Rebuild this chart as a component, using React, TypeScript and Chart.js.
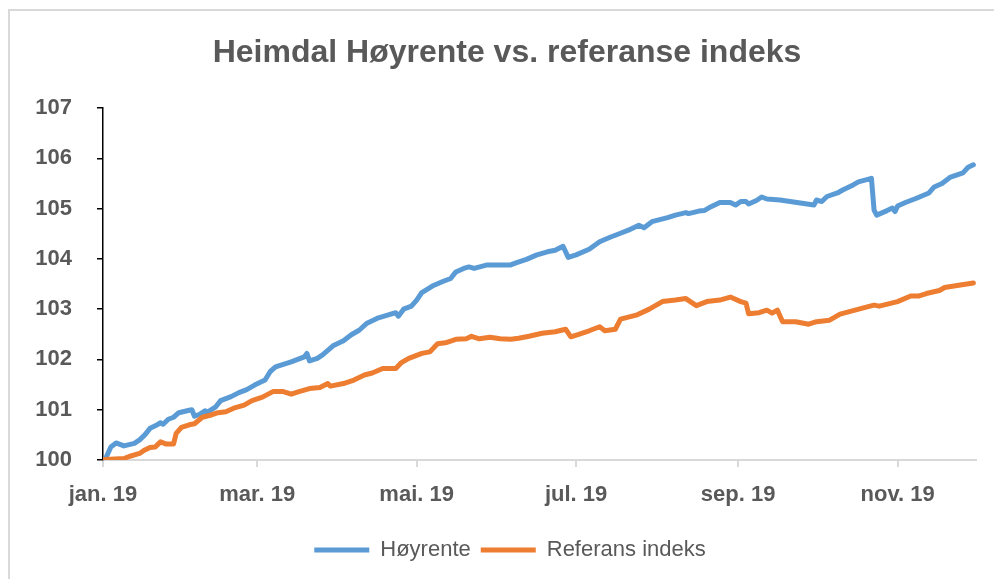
import React, { useEffect, useRef } from "react";
import { Chart, registerables } from "chart.js";

Chart.register(...registerables);

const titleText = "Heimdal Høyrente vs. referanse indeks";
const seriesNames = ["Høyrente", "Referans indeks"];

// x = days since 1 Jan 2019
const tickDays = [0, 59, 120, 181, 243, 304];
const tickLabels = ["jan. 19", "mar. 19", "mai. 19", "jul. 19", "sep. 19", "nov. 19"];
const yTicks = [100, 101, 102, 103, 104, 105, 106, 107];

const hoyDays = [0, 1, 3, 5, 8, 12, 14, 16, 18, 20, 22, 23, 25, 27, 29, 33, 34, 35, 37, 39, 40, 43, 45, 49, 52, 55, 58, 62, 64, 66, 72, 77, 78, 79, 82, 84, 88, 92, 95, 98, 101, 105, 107, 112, 113, 115, 118, 120, 122, 126, 130, 133, 135, 138, 140, 142, 147, 151, 156, 158, 162, 166, 170, 173, 176, 178, 181, 186, 190, 194, 198, 201, 205, 207, 210, 216, 219, 223, 224, 228, 230, 232, 236, 240, 242, 244, 246, 247, 250, 252, 254, 259, 272, 273, 275, 277, 281, 283, 287, 289, 294, 295, 296, 300, 302, 303, 304, 307, 311, 316, 318, 321, 324, 329, 331, 333];
const hoyValues = [100.0, 100.03, 100.26, 100.34, 100.28, 100.33, 100.4, 100.5, 100.63, 100.68, 100.74, 100.71, 100.81, 100.85, 100.94, 100.99, 101.0, 100.87, 100.91, 100.98, 100.95, 101.05, 101.18, 101.26, 101.34, 101.4, 101.49, 101.59, 101.76, 101.85, 101.95, 102.05, 102.12, 101.97, 102.02, 102.09, 102.27, 102.37, 102.49, 102.58, 102.72, 102.82, 102.85, 102.93, 102.86, 103.0, 103.06, 103.18, 103.33, 103.46, 103.55, 103.61, 103.74, 103.81, 103.84, 103.81, 103.88, 103.88, 103.88, 103.92, 103.99, 104.08, 104.14, 104.17, 104.25, 104.03, 104.08, 104.19, 104.34, 104.43, 104.51, 104.57, 104.67, 104.62, 104.74, 104.82, 104.87, 104.92, 104.9, 104.95, 104.96, 105.02, 105.12, 105.12, 105.07, 105.14, 105.14, 105.09, 105.16, 105.23, 105.19, 105.17, 105.07, 105.17, 105.14, 105.24, 105.31, 105.37, 105.47, 105.53, 105.6, 104.97, 104.87, 104.96, 105.01, 104.94, 105.05, 105.12, 105.2, 105.31, 105.43, 105.5, 105.62, 105.71, 105.82, 105.87];

const refDays = [0, 1, 8, 10, 14, 16, 18, 20, 22, 24, 27, 28, 30, 33, 35, 38, 41, 44, 47, 50, 54, 57, 61, 65, 69, 72, 75, 79, 83, 86, 87, 92, 96, 100, 103, 107, 112, 114, 117, 122, 125, 128, 131, 135, 139, 141, 144, 148, 152, 156, 159, 163, 168, 173, 177, 179, 182, 186, 190, 192, 196, 198, 204, 209, 214, 219, 223, 227, 231, 236, 240, 244, 246, 247, 251, 254, 256, 258, 260, 263, 265, 270, 273, 278, 282, 287, 292, 295, 297, 304, 309, 312, 315, 320, 322, 328, 333];
const refValues = [100.0, 100.01, 100.03, 100.07, 100.13, 100.2, 100.25, 100.26, 100.36, 100.32, 100.32, 100.53, 100.65, 100.7, 100.72, 100.85, 100.89, 100.94, 100.96, 101.03, 101.09, 101.18, 101.25, 101.36, 101.36, 101.31, 101.36, 101.42, 101.44, 101.52, 101.47, 101.52, 101.59, 101.69, 101.73, 101.82, 101.82, 101.93, 102.02, 102.12, 102.15, 102.31, 102.33, 102.4, 102.41, 102.46, 102.41, 102.44, 102.41, 102.4, 102.42, 102.46, 102.52, 102.55, 102.6, 102.45, 102.5, 102.57, 102.65, 102.57, 102.6, 102.8, 102.88, 103.0, 103.15, 103.18, 103.21, 103.07, 103.15, 103.18, 103.24, 103.15, 103.12, 102.91, 102.93, 102.98, 102.92, 102.98, 102.75, 102.75, 102.75, 102.7, 102.75, 102.78, 102.9, 102.97, 103.04, 103.08, 103.06, 103.15, 103.26, 103.26, 103.31, 103.37, 103.43, 103.48, 103.52];

const FONT = "'Liberation Sans', Arial, sans-serif";
const GRAY = "#595959";

const frame = {
  id: "frame",
  beforeDraw(chart: any) {
    const ctx = chart.ctx;
    ctx.save();
    ctx.fillStyle = "#ffffff";
    ctx.fillRect(0, 0, chart.width, chart.height);
    ctx.strokeStyle = "#d9d9d9";
    ctx.lineWidth = 2;
    ctx.strokeRect(9, 10, chart.width + 20, chart.height + 20);
    ctx.restore();
  },
  afterLayout(chart: any) {
    // centre title and legend like the original
    if (chart.titleBlock) {
      chart.titleBlock.left += 19;
      chart.titleBlock.right += 19;
    }
    if (chart.legend) {
      chart.legend.left += 22;
      chart.legend.right += 22;
    }
  },
};

export default function App() {
  const ref = useRef<HTMLCanvasElement>(null);
  useEffect(() => {
    const canvas = ref.current!;
    const chart = new Chart(canvas, {
      type: "line",
      data: {
        datasets: [
          {
            label: seriesNames[0],
            data: hoyDays.map((d, i) => ({ x: d, y: hoyValues[i] })),
            borderColor: "#5B9BD5",
            backgroundColor: "#5B9BD5",
            borderWidth: 5,
            pointRadius: 0,
            borderJoinStyle: "round",
            borderCapStyle: "round",
            order: 1,
          },
          {
            label: seriesNames[1],
            data: refDays.map((d, i) => ({ x: d, y: refValues[i] })),
            borderColor: "#ED7D31",
            backgroundColor: "#ED7D31",
            borderWidth: 5,
            pointRadius: 0,
            borderJoinStyle: "round",
            borderCapStyle: "round",
            order: 0,
          },
        ],
      },
      options: {
        animation: false,
        responsive: false,
        devicePixelRatio: 1,
        layout: { padding: { left: 0, right: 18, top: 0, bottom: 8 } },
        plugins: {
          tooltip: { enabled: false },
          title: {
            display: true,
            text: titleText,
            color: GRAY,
            font: { family: FONT, size: 32, weight: "bold" },
            padding: { top: 34, bottom: 35.6 },
          },
          legend: {
            position: "bottom",
            labels: {
              boxWidth: 55,
              boxHeight: 5,
              color: GRAY,
              font: { family: FONT, size: 22 },
              padding: 10,
              generateLabels: (c: any) =>
                c.data.datasets.map((ds: any, i: number) => ({
                  text: ds.label,
                  fillStyle: ds.borderColor,
                  strokeStyle: ds.borderColor,
                  lineWidth: 0,
                  hidden: false,
                  datasetIndex: i,
                  fontColor: GRAY,
                })),
            },
          },
        },
        scales: {
          x: {
            type: "linear",
            min: 0,
            max: 334,
            afterBuildTicks: (s: any) => {
              s.ticks = tickDays.map((v) => ({ value: v }));
            },
            afterFit: (s: any) => {
              s.height = 69;
            },
            ticks: {
              autoSkip: false,
              maxRotation: 0,
              padding: 15,
              color: GRAY,
              font: { family: FONT, size: 22, weight: "bold" },
              callback: (v: any) => {
                const i = tickDays.indexOf(Number(v));
                return i >= 0 ? tickLabels[i] : "";
              },
            },
            grid: { drawOnChartArea: false, drawTicks: true, tickLength: 7, color: "#d9d9d9", lineWidth: 2 },
            border: { color: "#d9d9d9", width: 2 },
          },
          y: {
            min: 100,
            max: 107,
            afterBuildTicks: (s: any) => {
              s.ticks = yTicks.map((v) => ({ value: v }));
            },
            afterFit: (s: any) => {
              s.width = 103;
            },
            ticks: {
              padding: 25,
              color: GRAY,
              font: { family: FONT, size: 22, weight: "bold" },
            },
            grid: { drawOnChartArea: false, drawTicks: true, tickLength: 6, color: "#000000", lineWidth: 1.5 },
            border: { color: "#000000", width: 1.5 },
          },
        },
      },
      plugins: [frame],
    } as any);
    return () => chart.destroy();
  }, []);
  return (
    <canvas
      ref={ref}
      width={994}
      height={579}
      style={{ position: "absolute", left: 0, top: 0, width: 994, height: 579, display: "block" }}
    />
  );
}
